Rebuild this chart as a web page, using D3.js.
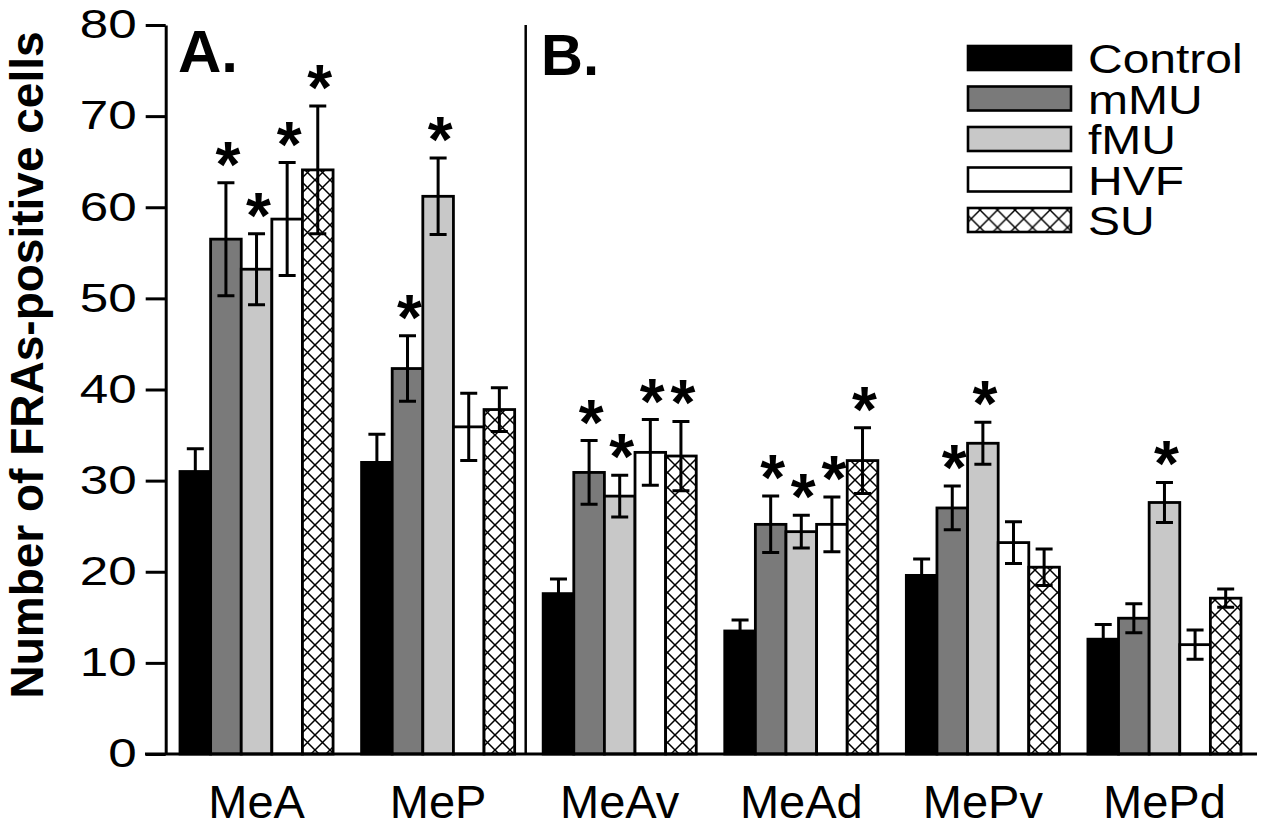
<!DOCTYPE html>
<html>
<head>
<meta charset="utf-8">
<script src="https://cdn.jsdelivr.net/npm/d3@7"></script>
<style>
  html, body { margin: 0; padding: 0; background: #fff; }
  svg { display: block; }
  text { font-family: "Liberation Sans", Arial, Helvetica, sans-serif; fill: #000; }
</style>
</head>
<body>
<svg id="chart" width="1269" height="827"></svg>
<script>
// ---- data ----
const categories = ["MeA", "MeP", "MeAv", "MeAd", "MePv", "MePd"];
const groups = ["Control", "mMU", "fMU", "HVF", "SU"];

const controlVals = [31.0, 32.0, 17.6, 13.5, 19.6, 12.6];
const controlErr  = [2.5, 3.1, 1.6, 1.2, 1.8, 1.6];
const mMUVals = [56.5, 42.3, 30.9, 25.2, 27.0, 14.9];
const mMUErr  = [6.2, 3.6, 3.5, 3.1, 2.4, 1.6];
const fMUVals = [53.2, 61.2, 28.3, 24.4, 34.1, 27.6];
const fMUErr  = [3.9, 4.2, 2.3, 1.8, 2.3, 2.2];
const HVFVals = [58.7, 35.9, 33.1, 25.2, 23.2, 12.0];
const HVFErr  = [6.2, 3.7, 3.6, 3.0, 2.3, 1.6];
const SUVals  = [64.1, 37.8, 32.7, 32.2, 20.5, 17.1];
const SUErr   = [7.0, 2.4, 3.8, 3.6, 2.0, 1.0];

const controlSig = [0, 0, 0, 0, 0, 0];
const mMUSig = [1, 1, 1, 1, 1, 0];
const fMUSig = [1, 1, 1, 1, 1, 1];
const HVFSig = [1, 0, 1, 1, 0, 0];
const SUSig  = [1, 0, 1, 1, 0, 0];

const yTicks = [0, 10, 20, 30, 40, 50, 60, 70, 80];
const yLabel = "Number of FRAs-positive cells";
const panelLabels = ["A.", "B."];

// ---- build table ----
const seriesVals = { Control: controlVals, mMU: mMUVals, fMU: fMUVals, HVF: HVFVals, SU: SUVals };
const seriesErr  = { Control: controlErr, mMU: mMUErr, fMU: fMUErr, HVF: HVFErr, SU: SUErr };
const seriesSig  = { Control: controlSig, mMU: mMUSig, fMU: fMUSig, HVF: HVFSig, SU: SUSig };
const fills = { Control: "#000000", mMU: "#7a7a7a", fMU: "#c8c8c8", HVF: "#ffffff", SU: "url(#hatch)" };

const data = [];
categories.forEach((c, i) => {
  groups.forEach(g => {
    data.push({ cat: c, group: g, value: seriesVals[g][i], err: seriesErr[g][i], sig: seriesSig[g][i] });
  });
});

// ---- layout ----
const svg = d3.select("#chart");
svg.append("rect").attr("width", 1269).attr("height", 827).attr("fill", "#fff");

const defs = svg.append("defs");
function hatch(id, P) {
  const p = defs.append("pattern").attr("id", id).attr("patternUnits", "userSpaceOnUse")
    .attr("width", P).attr("height", P);
  p.append("rect").attr("width", P).attr("height", P).attr("fill", "#fff");
  p.append("path").attr("d", `M0,0L${P},${P}M0,${P}L${P},0`)
    .attr("stroke", "#000").attr("stroke-width", 1.5).attr("fill", "none");
}
hatch("hatch", 15);
hatch("hatchLegend", 17.5);

const axisX = 165.7;
const y = d3.scaleLinear().domain([0, 80]).range([754, 25]);
const x = d3.scaleBand().domain(categories).range([180, 1241]).paddingInner(0.157).paddingOuter(0);
const xi = d3.scaleBand().domain(groups).range([0, x.bandwidth()]).padding(0);

// bars
const gBars = svg.append("g");
gBars.selectAll("rect.bar").data(data).join("rect")
  .attr("class", "bar")
  .attr("x", d => x(d.cat) + xi(d.group))
  .attr("y", d => y(d.value))
  .attr("width", xi.bandwidth())
  .attr("height", d => y(0) - y(d.value))
  .attr("fill", d => fills[d.group])
  .attr("stroke", "#000")
  .attr("stroke-width", 2.8);

// error bars
const capW = 17;
const gErr = svg.append("g").attr("stroke", "#000").attr("stroke-width", 3).attr("fill", "none");
data.forEach(d => {
  const cx = x(d.cat) + xi(d.group) + xi.bandwidth() / 2;
  const top = y(d.value + d.err), bot = y(d.value - d.err);
  gErr.append("path").attr("d",
    `M${cx},${top}V${bot}M${cx - capW / 2},${top}H${cx + capW / 2}M${cx - capW / 2},${bot}H${cx + capW / 2}`);
});

// significance stars
svg.append("g").selectAll("text.star").data(data.filter(d => d.sig)).join("text")
  .attr("class", "star")
  .attr("x", d => x(d.cat) + xi(d.group) + xi.bandwidth() / 2 + 2)
  .attr("y", d => y(d.value + d.err) + 4)
  .attr("text-anchor", "middle")
  .attr("font-size", 64)
  .attr("font-weight", "bold")
  .text("*");

// y axis
const yAxis = svg.append("g").attr("transform", `translate(${axisX},0)`)
  .call(d3.axisLeft(y).tickValues(yTicks).tickSize(20).tickSizeOuter(0).tickFormat(d3.format("d")));
yAxis.select(".domain").attr("stroke", "#000").attr("stroke-width", 3);
yAxis.selectAll(".tick line").attr("stroke", "#000").attr("stroke-width", 3);
yAxis.selectAll(".tick text")
  .attr("x", 0)
  .attr("transform", "translate(-29,0) scale(1.28,1)")
  .attr("font-size", 40)
  .attr("font-family", "Liberation Sans, Arial, sans-serif")
  .attr("fill", "#000");

// x baseline and labels
svg.append("line").attr("x1", 145).attr("x2", 1257).attr("y1", y(0)).attr("y2", y(0))
  .attr("stroke", "#000").attr("stroke-width", 3);
const xAxis = svg.append("g").attr("transform", `translate(0,${y(0)})`)
  .call(d3.axisBottom(x).tickSize(0).tickPadding(31));
xAxis.select(".domain").remove();
xAxis.selectAll(".tick text")
  .attr("font-size", 47)
  .attr("font-family", "Liberation Sans, Arial, sans-serif")
  .attr("fill", "#000");

// divider between panels
svg.append("line").attr("x1", 525.7).attr("x2", 525.7).attr("y1", y(80)).attr("y2", y(0))
  .attr("stroke", "#000").attr("stroke-width", 2.5);

// panel labels
svg.append("text").attr("x", 178).attr("y", 72).attr("font-size", 60).attr("font-weight", "bold").text(panelLabels[0]);
svg.append("text").attr("x", 541).attr("y", 75).attr("font-size", 58).attr("font-weight", "bold").text(panelLabels[1]);

// y title
svg.append("text")
  .attr("transform", "translate(43,365) rotate(-90)")
  .attr("text-anchor", "middle")
  .attr("font-size", 46)
  .attr("font-weight", "bold")
  .text(yLabel);

// legend
const legY = d3.scalePoint().domain(groups).range([58, 220]);
const legFills = { Control: "#000000", mMU: "#7a7a7a", fMU: "#c8c8c8", HVF: "#ffffff", SU: "url(#hatchLegend)" };
const leg = svg.append("g");
groups.forEach(g => {
  leg.append("rect").attr("x", 968).attr("y", legY(g) - 12).attr("width", 103).attr("height", 24)
    .attr("fill", legFills[g]).attr("stroke", "#000").attr("stroke-width", 2.6);
  leg.append("text")
    .attr("transform", `translate(1088,${legY(g) + 15}) scale(1.2,1)`)
    .attr("font-size", 40)
    .text(g);
});
</script>
</body>
</html>
